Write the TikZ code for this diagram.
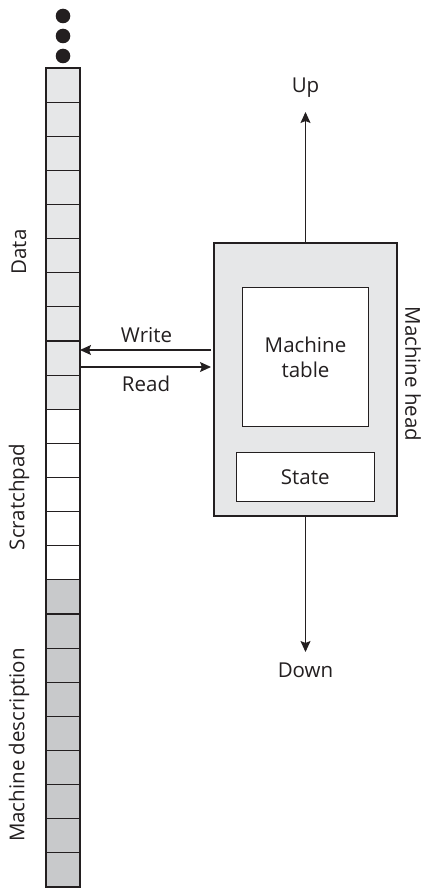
\documentclass[tikz,border=0pt]{standalone}
\usepackage{fontspec}
\setmainfont{Open Sans}
\usetikzlibrary{arrows.meta,calc}
\definecolor{ink}{HTML}{231F20}
\definecolor{lightfill}{HTML}{E6E7E8}
\definecolor{darkfill}{HTML}{C8C9CB}
\tikzset{
  cell/.style={draw=ink, line width=1.1pt, minimum width=34pt, minimum height=34.125pt, inner sep=0pt, outer sep=0pt},
  box/.style={draw=ink, line width=1.1pt, inner sep=0pt, outer sep=0pt},
  lbl/.style={text=ink, font=\fontsize{20.5}{24}\selectfont, inner sep=0pt},
  arr/.style={draw=ink, line width=1.1pt, -{Stealth[length=11pt,width=10pt,inset=2pt]}},
}
\begin{document}
\begin{tikzpicture}[x=1pt,y=-1pt]
\useasboundingbox (0,0) rectangle (421,888);

% ellipsis above the tape
\foreach \k/\yy in {1/16,2/36,3/56}
  \fill[ink] (63,\yy) circle (7.3) node (dot\k) {};

% tape cells: data, scratchpad, machine description
\foreach \i in {1,...,24}{
  \ifnum\i<11 \def\cellfill{lightfill}\else
    \ifnum\i<16 \def\cellfill{white}\else \def\cellfill{darkfill}\fi\fi
  \node[cell, fill=\cellfill] (c\i) at (63, {68+34.125*(\i-0.5)}) {};
}

% region labels along the tape
\node[lbl, rotate=90] (data) at (19,252) {Data};
\node[lbl, rotate=90] (scratch) at (19,497) {Scratchpad};
\node[lbl, rotate=90] (mdesc) at (19,745) {Machine description};

% machine head
\node[box, fill=lightfill, minimum width=183pt, minimum height=273pt] (head) at (305.5,379.5) {};
\node[box, fill=white, minimum width=125.6pt, minimum height=139pt, align=center, lbl] (table) at (305.5,357) {Machine\\[1pt]table};
\node[box, fill=white, minimum width=138.3pt, minimum height=48.3pt, lbl] (state) at (305.2,477) {State};
\node[lbl, rotate=-90] (headlbl) at (413,374) {Machine head};

% head movement
\coordinate (uptip) at (305.5,112);
\coordinate (downtip) at (305.5,652);
\draw[arr] (head.north) -- (uptip);
\draw[arr] (head.south) -- (downtip);
\node[lbl] (up) at (305.5,88) {Up};
\node[lbl] (down) at (305.5,670) {Down};

% read / write between tape and head
\coordinate (wstart) at ($(head.west)+(-3,-29.5)$);
\coordinate (rend) at ($(head.west)+(-3,-12.5)$);
\draw[arr] (wstart) -- (wstart -| c9.east);
\draw[arr] (rend -| c9.east) -- (rend);
\node[lbl] (write) at (146.5,335) {Write};
\node[lbl] (read) at (146,384) {Read};
\end{tikzpicture}
\end{document}
